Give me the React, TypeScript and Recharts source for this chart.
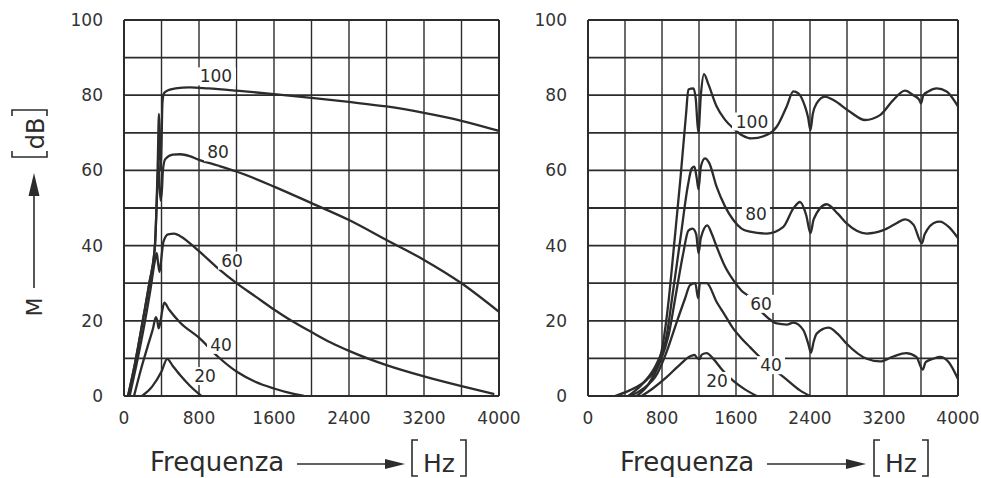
import React from "react";
import { LineChart, Line, XAxis, YAxis, ReferenceLine, ReferenceDot } from "recharts";

type Pt = [number, number];

// frequency ticks / grid
const freqTicks = [0, 800, 1600, 2400, 3200, 4000];
const levelTicks = [0, 20, 40, 60, 80, 100];
const freqGrid = [0, 400, 800, 1200, 1600, 2000, 2400, 2800, 3200, 3600, 4000];
const levelGrid = [0, 10, 20, 30, 40, 50, 60, 70, 80, 90, 100];

// left panel, [Hz, dB]
const left100: Pt[] = [[43, 0], [120, 9], [200, 20], [270, 30], [330, 40], [360, 62], [373, 75], [380, 68], [390, 60], [400, 67], [410, 78], [425, 80.5], [470, 81.3], [550, 81.8], [700, 82.1], [900, 81.8], [1200, 81.2], [1600, 80.3], [2000, 79.3], [2400, 78.2], [2800, 77], [3200, 75.3], [3600, 73.2], [4000, 70.5]];
const left80: Pt[] = [[43, 0], [120, 9], [200, 20], [270, 30], [330, 40], [355, 55], [368, 62], [378, 57], [390, 52], [405, 55], [415, 60], [440, 63], [520, 64.2], [600, 64.3], [700, 63.8], [800, 62.8], [1000, 61.3], [1200, 59.7], [1600, 55.7], [2000, 51.3], [2400, 46.8], [2800, 41.5], [3200, 36.2], [3600, 30], [4000, 22.4]];
const left60: Pt[] = [[60, 0], [130, 8], [210, 18], [280, 28], [330, 36], [350, 38], [365, 35], [380, 33], [400, 37], [420, 41], [470, 43], [536, 43.2], [600, 42.5], [800, 38.5], [1000, 34], [1200, 30], [1400, 26.5], [1600, 23], [1800, 19.8], [2000, 17], [2200, 14.3], [2400, 12], [2800, 8.2], [3200, 5.2], [3600, 2.6], [3950, 0.5]];
const left40: Pt[] = [[107, 0], [180, 7], [250, 13], [310, 18], [340, 21], [355, 20], [370, 18], [390, 20], [410, 23], [430, 24.8], [480, 23], [600, 19.5], [800, 15.5], [1000, 10.5], [1200, 6.5], [1400, 3.8], [1600, 2], [1800, 0.6], [1920, 0]];
const left20: Pt[] = [[193, 0], [300, 2.5], [400, 6.5], [461, 9.9], [520, 8], [600, 5.5], [700, 2.8], [825, 0]];

// right panel, [Hz, dB]
const right100: Pt[] = [[292, 0], [450, 1.5], [634, 4.3], [750, 8], [811, 14], [870, 25], [930, 40], [1000, 58], [1060, 75], [1085, 81.5], [1140, 81.8], [1165, 79], [1193, 70], [1220, 80], [1254, 85.6], [1300, 83], [1391, 77], [1480, 73.5], [1571, 71.2], [1670, 69.3], [1769, 68.5], [1931, 69.4], [2040, 71.6], [2148, 77], [2220, 81], [2274, 80.5], [2346, 77], [2380, 74], [2405, 70.7], [2430, 75], [2472, 77.8], [2562, 79.6], [2652, 78.7], [2832, 75.6], [2995, 73.4], [3157, 74.7], [3300, 78.7], [3427, 81.2], [3517, 80], [3580, 78.8], [3600, 77.8], [3625, 80], [3679, 81], [3769, 81.8], [3877, 81], [3967, 78.3], [4000, 77]];
const right80: Pt[] = [[436, 0], [600, 3.5], [750, 9], [850, 16], [920, 28], [1000, 42], [1080, 56], [1121, 60.5], [1150, 61], [1175, 58], [1195, 55], [1220, 61], [1265, 63.2], [1310, 62], [1391, 55.6], [1480, 50.5], [1571, 46.8], [1660, 44.5], [1751, 43.7], [1931, 43.2], [2112, 45], [2220, 49.9], [2292, 51.6], [2360, 48], [2405, 43.3], [2440, 47], [2580, 51], [2700, 48.5], [2796, 45.9], [3013, 43.2], [3193, 44.1], [3340, 46], [3427, 47], [3520, 45.5], [3610, 40.6], [3640, 43], [3769, 46.3], [3805, 46.4], [3900, 45], [4000, 42]];
const right60: Pt[] = [[526, 0], [650, 3], [780, 9], [870, 16], [950, 27], [1030, 38], [1085, 44], [1130, 44.5], [1170, 43], [1195, 38], [1220, 42], [1290, 45.4], [1340, 43], [1391, 39.7], [1480, 34.5], [1571, 30.8], [1660, 28], [1751, 26.3], [1895, 21.9], [2040, 19.3], [2150, 19], [2220, 19.5], [2328, 17.5], [2380, 14], [2410, 11.5], [2440, 14.5], [2472, 16.6], [2600, 18.2], [2700, 16.5], [2796, 13.9], [3013, 9.9], [3157, 9.2], [3300, 10.5], [3440, 11.4], [3550, 10.4], [3618, 7], [3650, 9], [3733, 9.9], [3805, 10.4], [3900, 9], [4000, 4.5]];
const right40: Pt[] = [[454, 0], [600, 2], [750, 6], [854, 12], [950, 19], [1050, 26], [1103, 29.5], [1160, 30], [1190, 26], [1210, 30], [1283, 30], [1391, 25], [1480, 21.5], [1571, 17.9], [1660, 15.3], [1751, 13], [1931, 8.6], [2112, 5.1], [2292, 1.5], [2400, 0]];
const right20: Pt[] = [[580, 0], [700, 2], [850, 5], [1000, 8.5], [1100, 10.5], [1150, 10.9], [1185, 10], [1205, 9.8], [1230, 11], [1283, 11.4], [1350, 10], [1450, 7], [1571, 4], [1700, 1.7], [1824, 0]];

// curve labels: [Hz, dB, text]
const leftLabels: [number, number, string][] = [[981, 85, "100"], [1003, 64.8, "80"], [1152, 36, "60"], [1035, 13.6, "40"], [864, 5.3, "20"]];
const rightLabels: [number, number, string][] = [[1773, 73, "100"], [1816, 48.5, "80"], [1870, 24.5, "60"], [1978, 8.2, "40"], [1395, 4, "20"]];

const INK = "#2c2c2c";
const FONT = "DejaVu Sans";

const toRows = (pts: Pt[]) => pts.map(([f, m]) => ({ f, m }));

const CurveLabel = ({ cx = 0, cy = 0, text }: { cx?: number; cy?: number; text: string }) => (
  <g>
    <rect x={cx - text.length * 6 - 2} y={cy - 9} width={text.length * 12 + 4} height={18} fill="#fff" />
    <text x={cx} y={cy + 6} textAnchor="middle" fontFamily={FONT} fontSize={17} fill={INK}>
      {text}
    </text>
  </g>
);

function Panel({ curves, labels, yTickMargin, marginLeft, width }: {
  curves: Pt[][];
  labels: [number, number, string][];
  yTickMargin: number;
  marginLeft: number;
  width: number;
}) {
  const tick = { fill: "#333", fontSize: 17, fontFamily: FONT };
  return (
    <LineChart width={width} height={478} margin={{ top: 20, right: 22, bottom: 52, left: marginLeft }}>
      <XAxis dataKey="f" type="number" domain={[0, 4000]} ticks={freqTicks} tick={tick}
        axisLine={false} tickLine={false} tickSize={0} tickMargin={16} height={30} />
      <YAxis type="number" domain={[0, 100]} ticks={levelTicks} tick={tick}
        axisLine={false} tickLine={false} tickSize={0} tickMargin={yTickMargin} width={60} />
      {freqGrid.map((v) => (
        <ReferenceLine key={"x" + v} x={v} stroke={INK} strokeWidth={v === 0 || v === 4000 ? 2 : 1.4} />
      ))}
      {levelGrid.map((v) => (
        <ReferenceLine key={"y" + v} y={v} stroke={INK} strokeWidth={v === 0 || v === 100 ? 2 : 1.8} />
      ))}
      {curves.map((c, i) => (
        <Line key={i} data={toRows(c)} dataKey="m" type="monotone" dot={false}
          stroke={INK} strokeWidth={2.3} isAnimationActive={false} />
      ))}
      {labels.map(([f, m, t]) => (
        <ReferenceDot key={t} x={f} y={m} r={0}
          shape={(p: { cx?: number; cy?: number }) => <CurveLabel cx={p.cx} cy={p.cy} text={t} />} />
      ))}
    </LineChart>
  );
}

function FreqTitle({ x, arrowEnd, bracketX }: { x: number; arrowEnd: number; bracketX: number }) {
  return (
    <g fill={INK} fontFamily={FONT}>
      <text x={x} y={471} fontSize={26} fill={INK}>Frequenza</text>
      <line x1={x + 147} y1={464} x2={arrowEnd - 15} y2={464} stroke={INK} strokeWidth={1.6} />
      <polygon points={`${arrowEnd - 20},459 ${arrowEnd},464 ${arrowEnd - 20},469`} />
      <path d={`M${bracketX + 6},440 H${bracketX} V476 H${bracketX + 6}`} fill="none" stroke={INK} strokeWidth={1.6} />
      <path d={`M${bracketX + 48},440 H${bracketX + 54} V476 H${bracketX + 48}`} fill="none" stroke={INK} strokeWidth={1.6} />
      <text x={bracketX + 27} y={472} fontSize={25} textAnchor="middle" fill={INK}>Hz</text>
    </g>
  );
}

export default function App() {
  return (
    <div style={{ position: "absolute", left: 0, top: 0, width: 981, height: 478, background: "#fff" }}>
      <div style={{ position: "absolute", left: 0, top: 0 }}>
        <Panel curves={[left100, left80, left60, left40, left20]} labels={leftLabels}
          yTickMargin={21} marginLeft={64} width={521} />
      </div>
      <div style={{ position: "absolute", left: 500, top: 0 }}>
        <Panel curves={[right100, right80, right60, right40, right20]} labels={rightLabels}
          yTickMargin={21} marginLeft={28} width={480} />
      </div>
      <svg width={981} height={478} style={{ position: "absolute", left: 0, top: 0, pointerEvents: "none" }}>
        <FreqTitle x={150} arrowEnd={405} bracketX={412} />
        <FreqTitle x={620} arrowEnd={866} bracketX={874} />
        <g fill={INK} fontFamily={FONT}>
          <text transform="translate(42,307) rotate(-90)" textAnchor="middle" fontSize={22}>M</text>
          <line x1={34} y1={288} x2={34} y2={190} stroke={INK} strokeWidth={1.6} />
          <polygon points="28.5,196 34,173 39.5,196" />
          <path d="M12,116 V110 H47 V116" fill="none" stroke={INK} strokeWidth={1.6} />
          <path d="M12,151 V157 H47 V151" fill="none" stroke={INK} strokeWidth={1.6} />
          <text transform="translate(44,133.5) rotate(-90)" textAnchor="middle" fontSize={24}>dB</text>
        </g>
      </svg>
    </div>
  );
}
